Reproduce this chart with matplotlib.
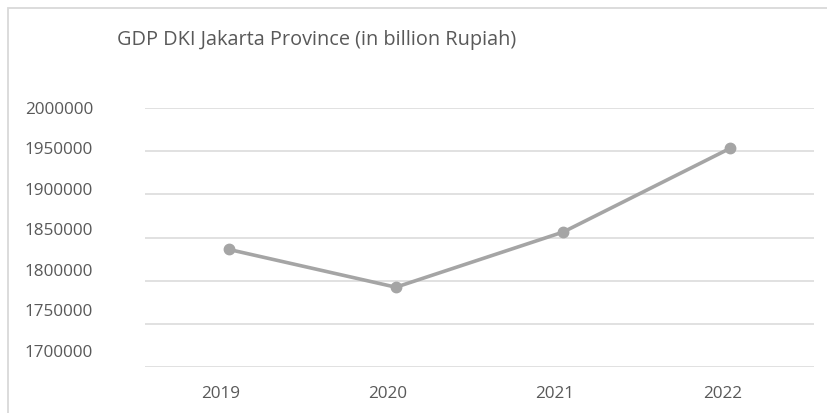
import matplotlib.pyplot as plt
import matplotlib.transforms as mtransforms
from matplotlib.patches import Rectangle

years = ["2019", "2020", "2021", "2022"]
gdp = [1836240, 1792430, 1856300, 1953450]
y_ticks = [1700000, 1750000, 1800000, 1850000, 1900000, 1950000, 2000000]

W, H = 827, 413
text_c = "#595959"
grid_c = "#D9D9D9"
line_c = "#A5A5A5"
plt.rcParams["font.family"] = ["Open Sans", "DejaVu Sans"]

fig = plt.figure(figsize=(W / 100, H / 100), dpi=100)

# chart frame
fig.add_artist(Rectangle((8 / W, -0.1), 1.0, (H - 8) / H + 0.1, transform=fig.transFigure,
                         fill=False, ec=grid_c, lw=1.3))

# plot area in pixels: x 145..814, y 108..367
ax = fig.add_axes([145 / W, (H - 367) / H, 669 / W, 259 / H])
x = range(len(years))
ax.plot(x, gdp, color=line_c, lw=2.6, marker="o", ms=7.5, solid_capstyle="round", zorder=3)
ax.set_xlim(-0.5, len(years) - 0.5)
ax.set_ylim(y_ticks[0], y_ticks[-1])
ax.set_yticks(y_ticks)
ax.set_yticklabels([])
ax.grid(axis="y", color=grid_c, lw=1.1)
ax.set_axisbelow(True)
for s in ax.spines.values():
    s.set_visible(False)
ax.tick_params(length=0)
ax.set_xticks(list(x))
ax.set_xticklabels(years, fontsize=12.3, color=text_c)
ax.tick_params(axis="x", pad=14)
shift = mtransforms.ScaledTranslation(-8 / 100, 0, fig.dpi_scale_trans)
for lbl in ax.get_xticklabels():
    lbl.set_transform(lbl.get_transform() + shift)

# value labels sit on their own slightly tighter scale
lab = fig.add_axes([145 / W, (H - 351) / H, 669 / W, 243.5 / H])
lab.set_ylim(y_ticks[0], y_ticks[-1])
lab.set_yticks(y_ticks)
lab.set_yticklabels([str(v) for v in y_ticks], fontsize=12.3, color=text_c)
lab.tick_params(length=0, pad=37.4)
lab.set_xticks([])
lab.patch.set_visible(False)
for s in lab.spines.values():
    s.set_visible(False)

fig.text(117 / W, 1 - 40 / H, "GDP DKI Jakarta Province (in billion Rupiah)",
         fontsize=14.3, color=text_c, va="center", ha="left")

fig.savefig("out.png", dpi=100)
